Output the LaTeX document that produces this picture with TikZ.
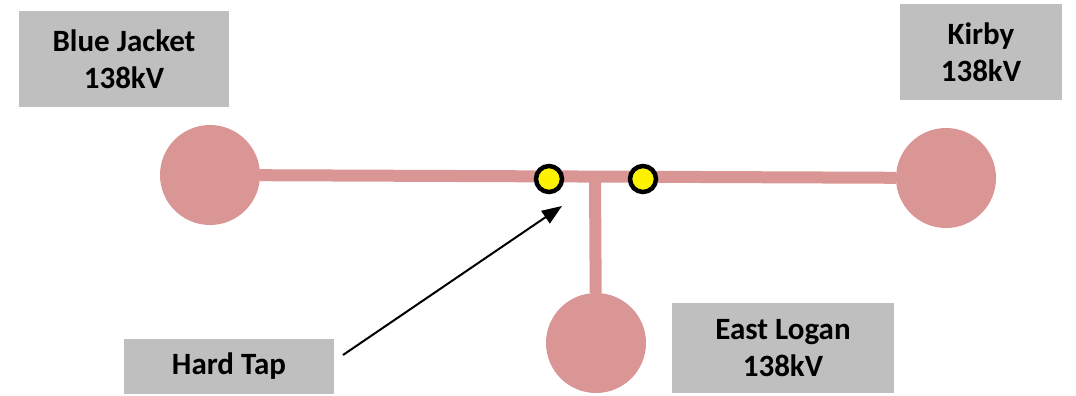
\documentclass[tikz,border=0pt]{standalone}
\usepackage{fontspec}
\setmainfont{Carlito}
\usetikzlibrary{arrows.meta}
\begin{document}
\begin{tikzpicture}[
    x=1pt, y=-1pt,
    station/.style={circle, minimum size=100pt, inner sep=0pt, fill=pinkline},
    namebox/.style={fill=boxgray, inner sep=0pt, align=center,
        font=\fontsize{31}{37}\selectfont\bfseries},
    tapdot/.style={circle, minimum size=26pt, inner sep=0pt, fill=yellow, draw=black, line width=4.5pt},
    feeder/.style={draw=pinkline, line width=12pt}
]
    \definecolor{pinkline}{HTML}{D99694}
    \definecolor{boxgray}{HTML}{BFBFBF}
    \useasboundingbox (0,0) rectangle (1076,396);

    \node[namebox, minimum width=210pt, minimum height=96pt] at (124,59) (bjbox) {Blue Jacket\\138kV};
    \node[namebox, minimum width=162pt, minimum height=96pt] at (981,52) (kbbox) {Kirby\\138kV};
    \node[namebox, minimum width=222pt, minimum height=90pt] at (783,348) (elbox) {East Logan\\138kV};
    \node[namebox, minimum width=210pt, minimum height=55pt] at (229,366) (tap) {Hard Tap};

    \node[station] at (210,175) (bj) {};
    \node[station] at (946,178) (kb) {};
    \node[station] at (596,343) (el) {};

    \coordinate (tee) at (595,178);
    \draw[feeder] (bj) -- (kb);
    \draw[feeder] (tee) -- (el);

    \node[tapdot] at (549,179) (dot1) {};
    \node[tapdot] at (643,179) (dot2) {};

    \coordinate (tail) at (343,355);
    \coordinate (tip) at (562,206);
    \draw[-{Triangle[length=20pt, width=15pt]}, line width=2pt] (tail) -- (tip);
\end{tikzpicture}
\end{document}
